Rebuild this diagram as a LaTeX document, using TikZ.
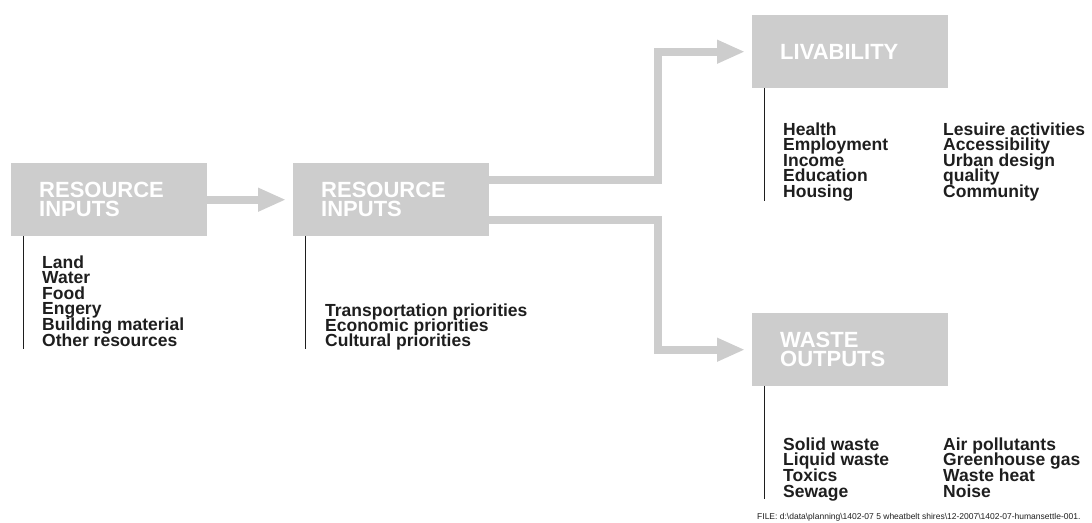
\documentclass[tikz,border=0pt]{standalone}
\usepackage{fontspec}
\setmainfont{Liberation Sans}
\usepackage{tikz}
\usetikzlibrary{positioning,calc,arrows.meta}
\definecolor{BoxGray}{RGB}{205,205,205}
\definecolor{InkGray}{RGB}{30,30,30}

\begin{document}
\begin{tikzpicture}[
		x=1pt, y=-1pt,
		titlebox/.style={fill=BoxGray, anchor=north west, minimum height=73pt, inner xsep=28pt, text width=140pt, align=left, text=white, font=\fontsize{22}{19}\selectfont\bfseries},
		item/.style={anchor=base west, inner sep=0pt, text=InkGray, font=\fontsize{17.5}{15.5}\selectfont\bfseries},
		rule/.style={draw=InkGray, line width=1.3pt},
		flow/.style={draw=BoxGray, line width=8pt, line join=miter, -{Triangle[width=22pt,length=28pt]}, shorten >=7pt},
		fileinfo/.style={anchor=base west, inner sep=0pt, text=InkGray, font=\fontsize{8.5}{9}\selectfont}
		]
		\useasboundingbox (0,0) rectangle (1092,522);
		
		% ===== boxes =====
		\node[titlebox] (res) at (11,163) {RESOURCE\\INPUTS};
		\node[titlebox] (pri) at (293,163) {RESOURCE\\INPUTS};
		\node[titlebox] (liv) at (752,15) {LIVABILITY};
		\node[titlebox] (waste) at (752,313) {WASTE\\OUTPUTS};
		
		% ===== arrows =====
		\draw[flow] (res) -- (pri);
		\draw[flow] ($(pri.east)+(0,-20)$) -| ($(liv.west)+(-94,0)$) -- (liv.west);
		\draw[flow] ($(pri.east)+(0,20)$) -| ($(waste.west)+(-94,0)$) -- (waste.west);
		
		% ===== rules under boxes =====
		\foreach \b in {res,pri,liv,waste}{
			\draw[rule] ($(\b.south west)+(12.5,0)$) -- ++(0,113);
		}
		
		% ===== lists =====
		\foreach \t [count=\i from 1] in {Land,Water,Food,Engery,Building material,Other resources}{
			\node[item] (res\i) at (42,{268+(\i-1)*15.6}) {\t};
		}
		\foreach \t [count=\i from 1] in {Transportation priorities,Economic priorities,Cultural priorities}{
			\node[item] (pri\i) at (325,{316+(\i-1)*15}) {\t};
		}
		\foreach \t [count=\i from 1] in {Health,Employment,Income,Education,Housing}{
			\node[item] (livA\i) at (783,{135+(\i-1)*15.5}) {\t};
		}
		\foreach \t [count=\i from 1] in {Lesuire activities,Accessibility,Urban design,quality,Community}{
			\node[item] (livB\i) at (943,{135+(\i-1)*15.5}) {\t};
		}
		\foreach \t [count=\i from 1] in {Solid waste,Liquid waste,Toxics,Sewage}{
			\node[item] (wasteA\i) at (783,{450+(\i-1)*15.7}) {\t};
		}
		\foreach \t [count=\i from 1] in {Air pollutants,Greenhouse gas,Waste heat,Noise}{
			\node[item] (wasteB\i) at (943,{450+(\i-1)*15.7}) {\t};
		}
		
		% ===== file note =====
		\node[fileinfo] (file) at (757,519) {FILE: d:\textbackslash data\textbackslash planning\textbackslash 1402-07 5 wheatbelt shires\textbackslash 12-2007\textbackslash 1402-07-humansettle-001.};
		
	\end{tikzpicture}
\end{document}
